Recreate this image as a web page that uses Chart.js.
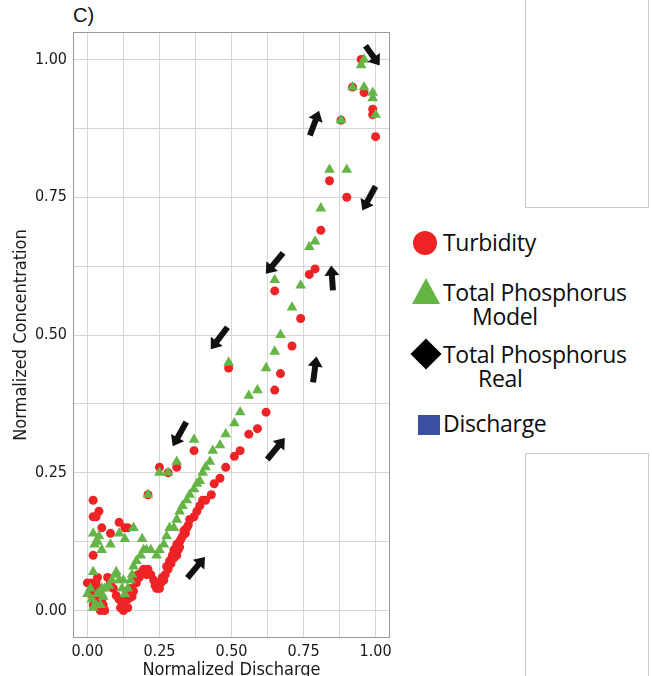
<!DOCTYPE html>
<html>
<head>
<meta charset="utf-8">
<script src="https://cdn.jsdelivr.net/npm/chart.js@4.4.0/dist/chart.umd.min.js"></script>
<style>
  body { margin: 0; width: 652px; height: 676px; overflow: hidden; background: #fff; position: relative; font-family: 'Liberation Sans', Arial, sans-serif; }
  #wrap { position: absolute; left: 0; top: 0; width: 400px; height: 676px; }
  .panel-label { position: absolute; left: 73px; top: 4px; font-size: 20px; color: #111; }
  .side-box { position: absolute; left: 525px; width: 122px; border: 1px solid #cacaca; }
  .row { position: absolute; left: 443px; line-height: 24px; white-space: nowrap; font-family: 'Open Sans', sans-serif; font-size: 23px; letter-spacing: -0.3px; color: #0d0d0d; }
  .mark { position: absolute; }
</style>
</head>
<body>
<div class="panel-label">C)</div>
<div class="side-box" style="top:-2px;height:208px;"></div>
<div class="side-box" style="top:453px;height:240px;"></div>
<div id="wrap"><canvas id="chart" width="400" height="676"></canvas></div>
<div id="legend"></div>
<script>
// series values: [normalized discharge, normalized concentration]
const turbidity = [
  [0.00, 0.05], [0.015, 0.05], [0.03, 0.05], [0.02, 0.04], [0.035, 0.06], [0.03, 0.03], [0.02, 0.01],
  [0.01, 0.03], [0.04, 0.04], [0.035, 0.015], [0.055, 0.01], [0.04, 0.005],
  [0.045, 0.00], [0.06, 0.00], [0.05, 0.02], [0.07, 0.06], [0.08, 0.05], [0.09, 0.04], [0.10, 0.027],
  [0.11, 0.02], [0.115, 0.005], [0.125, 0.00], [0.13, 0.005], [0.14, 0.005], [0.14, 0.02], [0.155, 0.025],
  [0.12, 0.015], [0.135, 0.03], [0.15, 0.04], [0.17, 0.05], [0.175, 0.065],
  [0.16, 0.035], [0.165, 0.055], [0.18, 0.06], [0.19, 0.07], [0.195, 0.075], [0.205, 0.065], [0.22, 0.065],
  [0.21, 0.075], [0.235, 0.045], [0.245, 0.05], [0.255, 0.05],
  [0.23, 0.055], [0.24, 0.04], [0.25, 0.04], [0.26, 0.06], [0.265, 0.055], [0.27, 0.065], [0.275, 0.08],
  [0.285, 0.09], [0.29, 0.085], [0.30, 0.095], [0.30, 0.11], [0.31, 0.10], [0.315, 0.11], [0.31, 0.12],
  [0.28, 0.075], [0.295, 0.10], [0.32, 0.115], [0.335, 0.145],
  [0.32, 0.125], [0.325, 0.13], [0.33, 0.135], [0.34, 0.14], [0.345, 0.15], [0.35, 0.155], [0.355, 0.165],
  [0.37, 0.17], [0.38, 0.18], [0.39, 0.19], [0.40, 0.20], [0.41, 0.20], [0.43, 0.21], [0.44, 0.23],
  [0.46, 0.24], [0.48, 0.26], [0.51, 0.28], [0.53, 0.29], [0.56, 0.32], [0.59, 0.33], [0.62, 0.36],
  [0.65, 0.40], [0.67, 0.43], [0.71, 0.48], [0.74, 0.53], [0.77, 0.61], [0.79, 0.62], [0.81, 0.69],
  [0.84, 0.78], [0.90, 0.75], [0.88, 0.89], [0.92, 0.95], [0.95, 1.00], [0.96, 0.94], [0.99, 0.91],
  [0.99, 0.90], [1.00, 0.86],
  [0.02, 0.20], [0.04, 0.18], [0.02, 0.17], [0.03, 0.17], [0.05, 0.15], [0.08, 0.14], [0.11, 0.16],
  [0.13, 0.15], [0.14, 0.15], [0.02, 0.10], [0.21, 0.21], [0.25, 0.26], [0.28, 0.25], [0.31, 0.26],
  [0.37, 0.29], [0.49, 0.44], [0.65, 0.58]
];
const phosphorusModel = [
  [0.00, 0.03], [0.015, 0.02], [0.02, 0.005], [0.01, 0.04], [0.035, 0.03], [0.03, 0.01], [0.05, 0.03],
  [0.045, 0.01], [0.055, 0.025], [0.05, 0.04], [0.06, 0.04], [0.075, 0.045], [0.085, 0.055], [0.10, 0.065],
  [0.10, 0.07], [0.11, 0.055], [0.125, 0.055], [0.12, 0.04], [0.13, 0.03], [0.14, 0.04], [0.15, 0.055],
  [0.155, 0.065], [0.16, 0.08], [0.17, 0.09], [0.185, 0.10], [0.195, 0.11], [0.205, 0.11], [0.22, 0.11],
  [0.24, 0.10], [0.25, 0.11], [0.265, 0.12], [0.275, 0.135], [0.285, 0.15], [0.30, 0.15], [0.31, 0.165],
  [0.32, 0.18], [0.33, 0.19], [0.345, 0.20], [0.355, 0.21], [0.37, 0.22], [0.38, 0.23], [0.39, 0.235],
  [0.40, 0.25], [0.41, 0.26], [0.425, 0.27], [0.435, 0.29], [0.46, 0.30], [0.48, 0.32], [0.51, 0.34],
  [0.53, 0.36], [0.56, 0.39], [0.59, 0.40], [0.62, 0.44], [0.65, 0.47], [0.67, 0.50], [0.71, 0.55],
  [0.74, 0.59], [0.77, 0.66], [0.79, 0.67], [0.81, 0.73], [0.84, 0.80], [0.90, 0.80], [0.88, 0.89],
  [0.92, 0.95], [0.96, 0.95], [0.95, 0.99], [0.96, 1.00], [0.99, 0.94], [0.99, 0.93], [1.00, 0.90],
  [0.02, 0.14], [0.04, 0.135], [0.035, 0.125], [0.025, 0.12], [0.05, 0.11], [0.08, 0.12], [0.11, 0.14],
  [0.13, 0.13], [0.16, 0.15], [0.19, 0.13], [0.02, 0.07], [0.21, 0.21], [0.25, 0.25], [0.28, 0.25],
  [0.31, 0.27], [0.37, 0.31], [0.49, 0.45], [0.65, 0.60]
];
const phosphorusReal = [];
const discharge = [];

const legendLines = [['Turbidity'], ['Total Phosphorus', 'Model'], ['Total Phosphorus', 'Real'], ['Discharge']];
const gridValues = [0, 0.125, 0.25, 0.375, 0.5, 0.625, 0.75, 0.875, 1];
const tickLabels = ['0.00', '0.25', '0.50', '0.75', '1.00'];

// hysteresis arrows, tail -> head, in data units
const arrows = [
  [0.965, 1.025, 1.014, 0.989],
  [0.772, 0.862, 0.804, 0.907],
  [1.000, 0.770, 0.954, 0.726],
  [0.679, 0.649, 0.619, 0.611],
  [0.852, 0.581, 0.846, 0.626],
  [0.486, 0.514, 0.428, 0.474],
  [0.783, 0.414, 0.795, 0.461],
  [0.343, 0.342, 0.296, 0.298],
  [0.624, 0.274, 0.685, 0.313],
  [0.347, 0.059, 0.408, 0.097]
];

const toXY = arr => arr.map(p => ({ x: p[0], y: p[1] }));
const tickText = v => {
  const k = Math.round(v * 4);
  return Math.abs(v * 4 - k) < 1e-6 ? tickLabels[k] : '';
};
const axisFont = "'DejaVu Sans Condensed', 'Liberation Sans', sans-serif";

const framePlugin = {
  id: 'frame',
  afterDatasetsDraw(chart) {
    const { ctx, chartArea: a, scales: { x, y } } = chart;
    ctx.save();
    ctx.fillStyle = '#111';
    ctx.strokeStyle = '#111';
    arrows.forEach(([x0, y0, x1, y1]) => {
      const px0 = x.getPixelForValue(x0), py0 = y.getPixelForValue(y0);
      const px1 = x.getPixelForValue(x1), py1 = y.getPixelForValue(y1);
      const ang = Math.atan2(py1 - py0, px1 - px0);
      const headLen = 10, headW = 7.5;
      const bx = px1 - Math.cos(ang) * headLen, by = py1 - Math.sin(ang) * headLen;
      ctx.lineWidth = 6;
      ctx.lineCap = 'butt';
      ctx.beginPath();
      ctx.moveTo(px0, py0);
      ctx.lineTo(bx + Math.cos(ang), by + Math.sin(ang));
      ctx.stroke();
      ctx.beginPath();
      ctx.moveTo(px1, py1);
      ctx.lineTo(bx - Math.sin(ang) * headW, by + Math.cos(ang) * headW);
      ctx.lineTo(bx + Math.sin(ang) * headW, by - Math.cos(ang) * headW);
      ctx.closePath();
      ctx.fill();
    });
    ctx.strokeStyle = '#9a9a9a';
    ctx.lineWidth = 1;
    ctx.strokeRect(a.left + 0.5, a.top + 0.5, a.width - 1, a.height - 1);
    ctx.restore();
  }
};

const chart = new Chart(document.getElementById('chart'), {
  type: 'scatter',
  data: {
    datasets: [
      {
        label: legendLines[0].join(' '),
        data: toXY(turbidity),
        pointStyle: 'circle',
        pointRadius: 4.5,
        backgroundColor: '#ed2326',
        borderWidth: 0,
        order: 2
      },
      {
        label: legendLines[1].join(' '),
        data: toXY(phosphorusModel),
        pointStyle: 'triangle',
        pointRadius: 6.2,
        backgroundColor: '#65b446',
        borderWidth: 0,
        order: 1
      },
      {
        label: legendLines[2].join(' '),
        data: toXY(phosphorusReal),
        pointStyle: 'rectRot',
        backgroundColor: '#000',
        order: 0
      },
      {
        label: legendLines[3].join(' '),
        data: toXY(discharge),
        pointStyle: 'rect',
        backgroundColor: '#3a4f9f',
        order: 0
      }
    ]
  },
  options: {
    responsive: false,
    animation: false,
    devicePixelRatio: 1,
    events: [],
    layout: { padding: { left: 0, top: 32, right: 10, bottom: 0 } },
    plugins: {
      legend: { display: false },
      tooltip: { enabled: false }
    },
    scales: {
      x: {
        type: 'linear',
        min: -0.05,
        max: 1.05,
        afterBuildTicks: s => { s.ticks = gridValues.map(v => ({ value: v })); },
        afterFit: s => { s.height = 38; },
        grid: { color: '#d6d6d6', drawTicks: false },
        border: { display: false },
        ticks: { callback: tickText, padding: 4, maxRotation: 0, autoSkip: false, color: '#1a1a1a', font: { family: axisFont, size: 16 } },
        title: { display: true, text: 'Normalized Discharge', color: '#1a1a1a', padding: { top: 0, bottom: -5 }, font: { family: axisFont, size: 18 } }
      },
      y: {
        type: 'linear',
        min: -0.05,
        max: 1.05,
        afterBuildTicks: s => { s.ticks = gridValues.map(v => ({ value: v })); },
        afterFit: s => { s.width = 73; },
        grid: { color: '#d6d6d6', drawTicks: false },
        border: { display: false },
        ticks: { callback: tickText, padding: 6, autoSkip: false, color: '#1a1a1a', font: { family: axisFont, size: 16 } },
        title: { display: true, text: 'Normalized Concentration', color: '#1a1a1a', padding: { top: 11, bottom: 0 }, font: { family: axisFont, size: 18 } }
      }
    }
  },
  plugins: [framePlugin]
});

// legend on the right, built from the datasets
const legendLayout = [
  { top: 230, indent: 0, mark: { left: 413, top: 231, w: 24, h: 24 } },
  { top: 280, indent: 29, mark: { left: 412, top: 278, w: 28, h: 26 } },
  { top: 342, indent: 35, mark: { left: 415, top: 343, w: 22, h: 22 } },
  { top: 411, indent: 0, mark: { left: 418, top: 415, w: 22, h: 20 } }
];
const legendEl = document.getElementById('legend');
chart.data.datasets.forEach((ds, i) => {
  const lay = legendLayout[i];
  const m = document.createElement('div');
  m.className = 'mark';
  Object.assign(m.style, {
    left: lay.mark.left + 'px', top: lay.mark.top + 'px',
    width: lay.mark.w + 'px', height: lay.mark.h + 'px', background: ds.backgroundColor
  });
  if (ds.pointStyle === 'circle') m.style.borderRadius = '50%';
  if (ds.pointStyle === 'triangle') m.style.clipPath = 'polygon(50% 0, 100% 100%, 0 100%)';
  if (ds.pointStyle === 'rectRot') m.style.transform = 'rotate(45deg)';
  legendEl.appendChild(m);
  const r = document.createElement('div');
  r.className = 'row';
  r.style.top = lay.top + 'px';
  r.innerHTML = legendLines[i].map((t, j) => '<div style="padding-left:' + (j ? lay.indent : 0) + 'px">' + t + '</div>').join('');
  legendEl.appendChild(r);
});
</script>
</body>
</html>
